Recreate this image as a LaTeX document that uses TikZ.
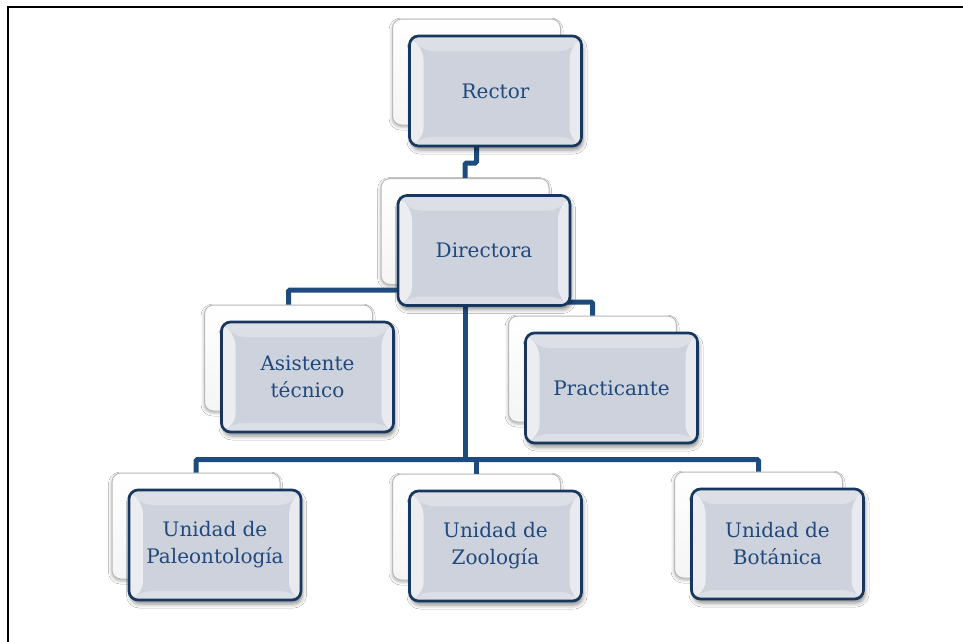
\documentclass[tikz,border=0pt]{standalone}
\usepackage{fontspec}
\setmainfont{DejaVu Serif}
\usetikzlibrary{shadows.blur}
\definecolor{navy}{HTML}{17375E}
\definecolor{connc}{HTML}{1F4A7E}
\definecolor{boxfill}{HTML}{CDD2DC}
\definecolor{txt}{HTML}{1F497D}
\tikzset{
 frontbox/.style={draw=navy, line width=2.7pt, rounded corners=9pt, fill=boxfill,
   text=txt, align=center, font=\fontsize{20}{27}\selectfont,
   minimum width=172pt, minimum height=110pt, inner sep=0pt,
   blur shadow={shadow xshift=1.5pt, shadow yshift=-4pt, shadow blur radius=4pt, shadow opacity=45},
   path picture={
     \coordinate (pa) at (path picture bounding box.north west);
     \coordinate (pb) at (path picture bounding box.north east);
     \coordinate (pc) at (path picture bounding box.south east);
     \coordinate (pd) at (path picture bounding box.south west);
     \coordinate (qa) at ([shift={(14pt,-15pt)}]pa);
     \coordinate (qb) at ([shift={(-12pt,-15pt)}]pb);
     \coordinate (qc) at ([shift={(-12pt,9pt)}]pc);
     \coordinate (qd) at ([shift={(14pt,9pt)}]pd);
     \fill[white,opacity=0.6] (pa) -- (qa) -- (qd) -- (pd) -- cycle;
     \fill[white,opacity=0.3] (pa) -- (pb) -- (qb) -- (qa) -- cycle;
     \fill[white,opacity=0.55] (pb) -- (pc) -- (qc) -- (qb) -- cycle;
     \fill[white,opacity=0.3] (pd) -- (qd) -- (qc) -- (pc) -- cycle;
   }},
 backbox/.style={draw=gray!55, line width=1pt, rounded corners=9pt,
   top color=white, bottom color=gray!8,
   minimum width=168pt, minimum height=106pt, inner sep=0pt,
   blur shadow={shadow xshift=-0.5pt, shadow yshift=-2pt, shadow blur radius=3pt, shadow opacity=30}},
 connline/.style={draw=connc, line width=5pt, rounded corners=1.5pt}
}
\begin{document}
\begin{tikzpicture}[x=1pt,y=-1pt]
\useasboundingbox (0,0) rectangle (963,641);
\fill[white] (0,0) rectangle (963,641);
\draw[line width=2.2pt] (8,660) -- (8,7) -- (980,7);

% back boxes
\node[backbox] (rectorb) at (476.5,72) {};
\node[backbox] (directorab) at (465,231.5) {};
\node[backbox] (asistenteb) at (288.5,358) {};
\node[backbox] (practicanteb) at (592.5,369) {};
\node[backbox] (paleob) at (196,526) {};
\node[backbox] (zoologiab) at (476.5,527) {};
\node[backbox] (botanicab) at (758.5,525) {};

% connectors (their hidden parts run under the front boxes)
\draw[connline] (rectorb.center) -- ++(0,91) -| (directorab.north);
\draw[connline] (directorab.center) -- ++(0,58.5) -| (asistenteb.north);
\draw[connline] (directorab.center) -- ++(0,70.5) -| (practicanteb.north);
\coordinate (busL) at ([yshift=13pt]paleob.north);
\draw[connline] (paleob.north) -- (busL) -| (botanicab.north);
\draw[connline] (directorab.center) -- (directorab.center |- busL);
\draw[connline] (zoologiab.north) -- (zoologiab.north |- busL);

% front boxes
\node[frontbox] (rector) at (495.5,91) {Rector};
\node[frontbox] (directora) at (484,250.5) {Directora};
\node[frontbox] (asistente) at (307.5,377) {Asistente\\técnico};
\node[frontbox] (practicante) at (611.5,388) {Practicante};
\node[frontbox] (paleo) at (215,545) {Unidad de\\Paleontología};
\node[frontbox] (zoologia) at (495.5,546) {Unidad de\\Zoología};
\node[frontbox] (botanica) at (777.5,544) {Unidad de\\Botánica};
\end{tikzpicture}
\end{document}
